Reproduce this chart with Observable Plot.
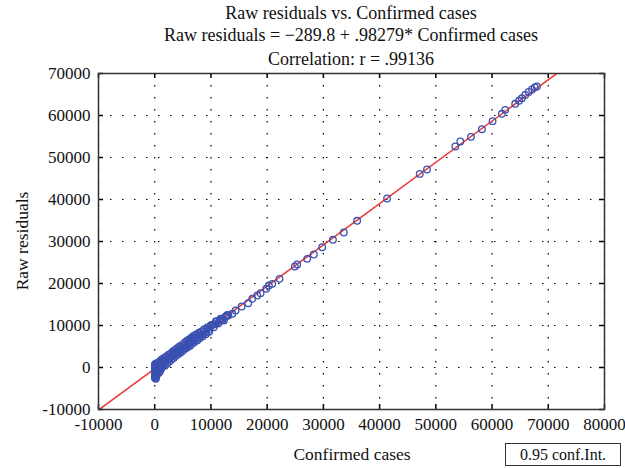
<!DOCTYPE html>
<html>
<head>
<meta charset="utf-8">
<script src="https://cdn.jsdelivr.net/npm/d3@7"></script>
<script src="https://cdn.jsdelivr.net/npm/@observablehq/plot@0.6"></script>
<style>
  body { margin: 0; background: white; }
  #wrap { position: relative; width: 625px; height: 468px; font-family: "Liberation Serif", "DejaVu Serif", serif; color: #111; }
  .t { position: absolute; left: 98px; width: 506px; text-align: center; font-size: 18px; line-height: 22px; white-space: nowrap; }
  #legend { position: absolute; left: 505px; top: 443px; width: 116px; height: 23px; border: 1px solid #333; font-size: 16px; line-height: 21px; text-align: center; box-sizing: border-box; }
  #xlab { position: absolute; left: 252px; width: 200px; top: 443px; text-align: center; font-size: 17.5px; line-height: 22px; }
  #ylab { position: absolute; left: -78px; width: 200px; top: 230px; text-align: center; font-size: 17.5px; line-height: 22px; transform: rotate(-90deg); }
  #chart { position: absolute; left: 0; top: 66px; }
</style>
</head>
<body>
<div id="wrap">
  <div class="t" style="top:2px">Raw residuals vs. Confirmed cases</div>
  <div class="t" style="top:24px">Raw residuals = −289.8 + .98279* Confirmed cases</div>
  <div class="t" style="top:48px">Correlation: r = .99136</div>
  <div id="chart"></div>
  <div id="xlab">Confirmed cases</div>
  <div id="ylab">Raw residuals</div>
  <div id="legend">0.95 conf.Int.</div>
</div>
<script>
// Tick values
const xTicks = [-10000, 0, 10000, 20000, 30000, 40000, 50000, 60000, 70000, 80000];
const yTicks = [-10000, 0, 10000, 20000, 30000, 40000, 50000, 60000, 70000];

// Regression line parameters
const intercept = -289.8;
const slope = 0.98279;
const lineX = [-10000, 80000];

// Confirmed cases (x) and raw residuals (y)
const confirmed = [
  30, 60, 90, 40, 120, 70, 150, 200, 100, 250, 180, 300, 350, 420, 500, 560, 620, 700, 800, 900, 1000, 1100,
  10, 20, 50, 80, 110, 140, 220, 260, 330, 380, 450, 520, 580, 650, 720, 850, 950, 1050, 1150, 1250,
  1300, 1500, 1700, 1900, 2100, 2300, 2500, 2700, 2900, 3100, 3300, 3500, 3700, 3900, 4100, 4300, 4500, 4700, 4900,
  1400, 1600, 1800, 2000, 2200, 2400, 2600, 2800, 3000, 3200, 3400, 3600, 3800, 4000, 4200, 4400, 4600, 4800, 5000,
  5200, 5400, 5600, 5800, 6000, 6200, 6400, 6600, 6800, 7000, 7200, 7500, 7700, 7900, 8100, 8400, 8700, 9000, 9300, 9600, 9900,
  5300, 5500, 5700, 5900, 6100, 6300, 6500, 6700, 6900, 7100, 7300, 7600, 7800, 8000, 8300, 8500, 8800, 9100, 9400, 9700,
  10000, 10300, 10500, 10700, 10900, 11000, 11300, 11500, 11700, 11900, 12100, 12300, 12500, 12700, 12900, 13100,
  13800, 14390, 15450, 16640, 17350, 18240, 18830, 19840, 20300, 20900, 22200, 24920, 25340, 27120, 28300, 29790,
  31700, 33630, 36000, 41330, 47130, 48430,
  53460, 54350, 56250, 58200, 60090, 61760, 62340, 64120, 64800, 65300, 65900, 66500, 67100, 67600, 67970
];
const residuals = [
  -2500, -2100, -1700, -1300, -900, -500, -150, 250, 600, 950, -2700, -1900, -1100, -300, 400, 800, -600, 200, 700, -200, 500, 1100,
  -1000, 0, 800, -2200, 300, -1600, -400, -2300, 500, -1500, 900, -800, 0, 1200, -1300, 1300, -900, 1600, -300, 1900,
  800, 1500, 1100, 1900, 1600, 2300, 2000, 2700, 2500, 3100, 2900, 3500, 3300, 3900, 3700, 4300, 4100, 4700, 4400,
  300, 2200, 400, 2600, 900, 3000, 1400, 3300, 1900, 3800, 2300, 4200, 2800, 4600, 3200, 5000, 3600, 5300, 4000,
  5200, 4800, 5600, 5300, 6100, 5700, 6500, 6200, 7000, 6500, 7200, 6900, 7600, 7300, 8100, 7800, 8600, 8300, 9200, 9000, 9700,
  5900, 4500, 6300, 4900, 6700, 5200, 7100, 5700, 7500, 6100, 7800, 6500, 8200, 7000, 8600, 7400, 9100, 7900, 9600, 8500,
  10100, 10200, 9600, 10300, 11000, 10900, 10500, 11100, 11600, 11500, 11300, 11200, 12000, 12200, 12500, 12400,
  12790, 13570, 14520, 15310, 16360, 17140, 17700, 18740, 19520, 19920, 21110, 24050, 24520, 25870, 26900, 28640,
  30400, 32140, 34930, 40240, 46100, 47140,
  52620, 53810, 54920, 56740, 58650, 60400, 61350, 62790, 63500, 64100, 64900, 65600, 66200, 66700, 66900
];

const points = confirmed.map((x, i) => ({x, y: residuals[i]}));
const fit = lineX.map(x => ({x, y: intercept + slope * x}));
const fmt = d => String(d);

const innerW = 625 - 98 - 21;
const innerH = 402 - 7 - 59;

const plot = Plot.plot({
  width: 625,
  height: 402,
  marginTop: 7,
  marginLeft: 98,
  marginRight: 21,
  marginBottom: 59,
  style: {fontFamily: "'Liberation Serif', 'DejaVu Serif', serif", fontSize: "17px", color: "#111", background: "white", overflow: "visible"},
  x: {domain: [-10000, 80000]},
  y: {domain: [-10000, 70000]},
  marks: [
    Plot.ruleX(xTicks, {stroke: "#000", strokeDasharray: "1.5,10.5", strokeWidth: 1.2}),
    Plot.ruleY(yTicks, {stroke: "#000", strokeDasharray: "1.5,10.5", strokeWidth: 1.2}),
    Plot.line(fit, {x: "x", y: "y", stroke: "#ee3b36", strokeWidth: 1.6, clip: true}),
    Plot.dot(points, {x: "x", y: "y", r: 3.3, stroke: "#3a50b2", strokeWidth: 1.3, fill: "none"}),
    Plot.tickX(xTicks, {x: d => d, insetTop: innerH - 5, stroke: "#000", strokeWidth: 1.5}),
    Plot.tickX(xTicks, {x: d => d, insetBottom: innerH - 5, stroke: "#000", strokeWidth: 1.5}),
    Plot.tickY(yTicks, {y: d => d, insetRight: innerW - 5, stroke: "#000", strokeWidth: 1.5}),
    Plot.tickY(yTicks, {y: d => d, insetLeft: innerW - 5, stroke: "#000", strokeWidth: 1.5}),
    Plot.frame({stroke: "#333", strokeWidth: 1.5}),
    Plot.axisX({ticks: xTicks, tickSize: 0, tickPadding: 8, tickFormat: fmt, label: null}),
    Plot.axisY({ticks: yTicks, tickSize: 0, tickPadding: 8, tickFormat: fmt, label: null})
  ]
});
document.getElementById("chart").appendChild(plot);
</script>
</body>
</html>
